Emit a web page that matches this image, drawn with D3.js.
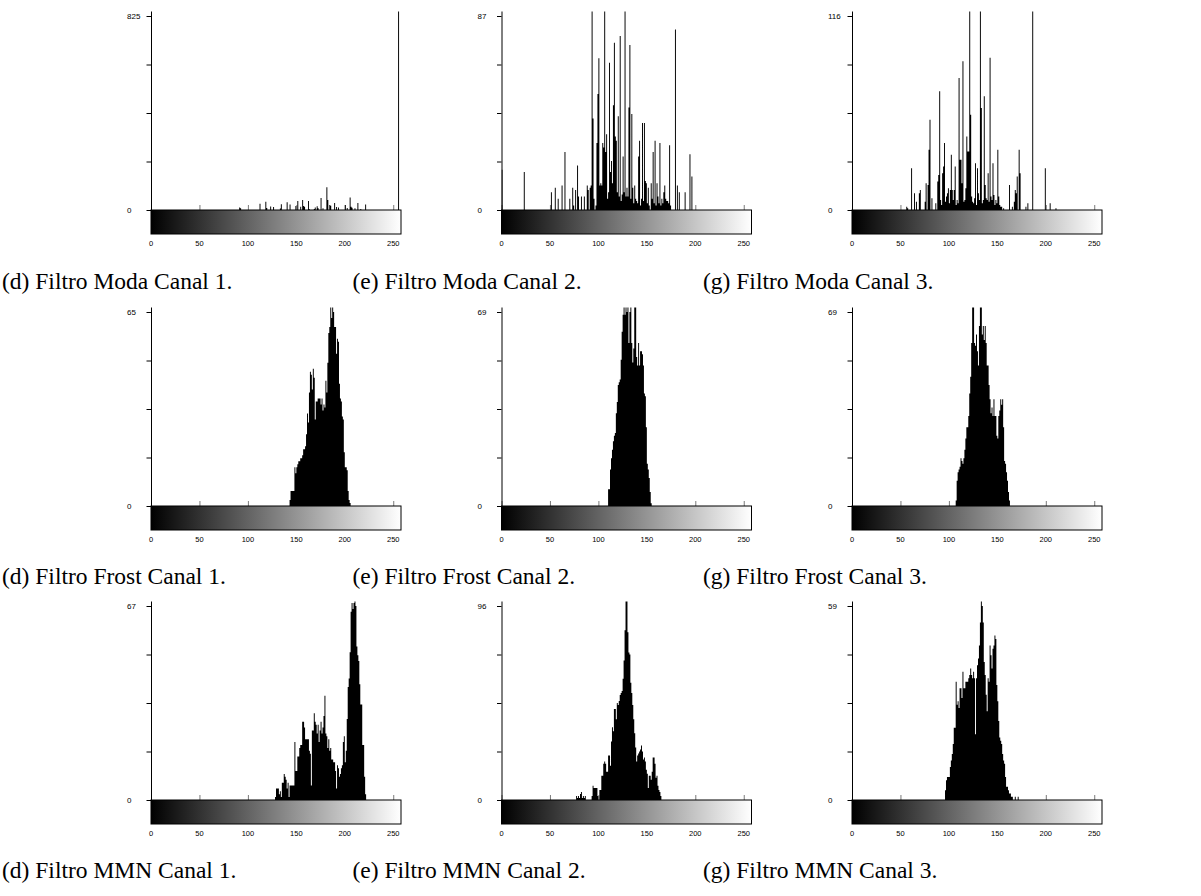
<!DOCTYPE html>
<html>
<head>
<meta charset="utf-8">
<script src="https://cdn.jsdelivr.net/npm/d3@7"></script>
<style>
  html, body { margin: 0; padding: 0; background: #fff; }
  svg { display: block; }
</style>
</head>
<body>
<svg id="chart" width="1201" height="896"></svg>
<script>
// Grey-level histograms of three filters (Moda, Frost, MMN) for channels 1-3.

const xTicks = [0, 50, 100, 150, 200, 250];

const captions = [
  "(d) Filtro Moda Canal 1.", "(e) Filtro Moda Canal 2.", "(g) Filtro Moda Canal 3.",
  "(d) Filtro Frost Canal 1.", "(e) Filtro Frost Canal 2.", "(g) Filtro Frost Canal 3.",
  "(d) Filtro MMN Canal 1.", "(e) Filtro MMN Canal 2.", "(g) Filtro MMN Canal 3."
];

// Largest labelled value of each y axis
const yMaxima = [825, 87, 116, 65, 69, 69, 67, 96, 59];

// Moda filter: sparse histograms (grey level -> pixel count)
const modaCanal1Bins = [91, 92, 112, 118, 119, 123, 126, 133, 134, 140, 143, 149, 151, 154, 156, 157, 158, 162, 163, 168, 169, 171, 172, 175, 177, 181, 182, 184, 185, 189, 191, 193, 200, 202, 205, 206, 207, 210, 213, 216, 221, 255];
const modaCanal1Counts = [11, 7, 27, 35, 8, 15, 13, 6, 24, 33, 23, 17, 38, 14, 43, 17, 14, 38, 3, 4, 11, 16, 7, 51, 7, 97, 43, 21, 18, 30, 13, 11, 21, 8, 53, 14, 10, 7, 30, 4, 23, 2000];

const modaCanal2Bins = [0, 23, 51, 55, 58, 62, 65, 70, 73, 74, 76, 78, 79, 82, 85, 88, 89, 91, 92, 93, 94, 95, 97, 98, 99, 100, 101, 102, 103, 104, 105, 106, 107, 108, 109, 110, 111, 112, 113, 114, 115, 116, 117, 118, 119, 120, 121, 122, 123, 124, 125, 126, 127, 128, 129, 130, 131, 132, 133, 134, 135, 136, 137, 138, 139, 140, 141, 142, 143, 144, 145, 146, 147, 148, 149, 150, 151, 152, 154, 155, 156, 157, 158, 159, 160, 161, 162, 163, 164, 165, 166, 167, 168, 169, 170, 171, 172, 173, 174, 179, 181, 183, 189, 194, 196];
const modaCanal2Counts = [18, 17, 8, 10, 5, 11, 26, 5, 10, 2, 9, 20, 6, 6, 6, 11, 9, 10, 11, 100, 41, 5, 2, 30, 52, 68, 11, 12, 11, 30, 28, 100, 26, 34, 5, 8, 66, 17, 22, 12, 47, 75, 33, 31, 8, 42, 6, 78, 4, 7, 24, 8, 100, 6, 10, 6, 46, 74, 5, 43, 10, 3, 11, 5, 4, 3, 24, 31, 2, 5, 39, 4, 39, 13, 12, 3, 10, 2, 12, 5, 26, 3, 31, 2, 12, 6, 3, 30, 2, 5, 3, 8, 11, 5, 4, 4, 3, 29, 2, 81, 11, 8, 8, 25, 15];

const modaCanal3Bins = [56, 57, 61, 64, 66, 69, 70, 75, 76, 78, 79, 80, 82, 86, 88, 89, 90, 91, 92, 93, 94, 95, 96, 97, 98, 99, 100, 101, 102, 103, 104, 105, 106, 107, 108, 109, 110, 111, 112, 113, 114, 115, 116, 117, 118, 119, 120, 121, 122, 123, 124, 125, 126, 127, 128, 129, 130, 131, 132, 133, 134, 135, 136, 137, 138, 139, 140, 141, 142, 143, 144, 145, 146, 147, 148, 149, 150, 151, 152, 153, 154, 156, 162, 165, 167, 168, 169, 170, 172, 173, 179, 181, 186, 199, 204, 210];
const modaCanal3Counts = [2, 1, 25, 10, 5, 10, 12, 5, 16, 15, 36, 54, 7, 4, 17, 21, 71, 6, 3, 22, 26, 40, 5, 8, 10, 13, 4, 12, 33, 12, 6, 12, 26, 3, 6, 4, 79, 30, 30, 16, 89, 5, 6, 13, 44, 35, 35, 150, 57, 8, 5, 4, 7, 28, 3, 25, 10, 6, 150, 61, 4, 6, 68, 15, 7, 6, 22, 5, 91, 8, 6, 28, 9, 3, 6, 4, 36, 8, 3, 2, 2, 1, 15, 2, 5, 12, 10, 20, 36, 22, 2, 4, 150, 25, 4, 1];

// Frost filter: dense histograms starting at the given grey level
const frostCanal1Start = 143;
const frostCanal1Counts = [2, 5, 5, 5, 5, 13, 11, 13, 14, 15, 15, 16, 16, 17, 19, 19, 20, 24, 31, 28, 38, 45, 44, 39, 46, 43, 29, 35, 35, 36, 36, 36, 34, 36, 32, 34, 33, 42, 38, 48, 58, 60, 70, 63, 70, 65, 60, 60, 51, 56, 55, 41, 36, 35, 30, 29, 18, 13, 13, 12, 5, 2, 1];

const frostCanal2Start = 110;
const frostCanal2Counts = [6, 6, 13, 17, 20, 23, 25, 26, 33, 37, 43, 44, 45, 52, 62, 68, 72, 68, 72, 69, 72, 58, 69, 72, 58, 51, 56, 72, 72, 53, 50, 58, 50, 55, 55, 54, 50, 40, 39, 28, 15, 13, 10, 5, 1];

const frostCanal3Start = 107;
const frostCanal3Counts = [2, 9, 12, 13, 14, 17, 16, 15, 17, 20, 24, 28, 28, 32, 40, 46, 58, 72, 72, 58, 57, 61, 55, 50, 64, 72, 72, 61, 64, 59, 64, 58, 50, 50, 43, 38, 33, 35, 32, 38, 32, 32, 25, 24, 32, 34, 38, 36, 38, 28, 16, 15, 12, 9, 5, 2];

// MMN filter
const mmnCanal1Start = 128;
const mmnCanal1Counts = [1, 4, 4, 4, 2, 3, 1, 6, 6, 9, 8, 7, 4, 6, 1, 5, 5, 5, 5, 5, 20, 10, 10, 15, 15, 18, 19, 19, 27, 27, 25, 21, 21, 21, 21, 17, 16, 5, 24, 24, 30, 27, 26, 23, 26, 20, 24, 27, 23, 25, 29, 36, 23, 22, 18, 21, 17, 18, 14, 14, 13, 13, 10, 4, 12, 11, 8, 9, 11, 12, 20, 22, 13, 17, 28, 39, 42, 51, 65, 68, 66, 68, 69, 67, 53, 50, 48, 40, 33, 33, 19, 19, 8, 2];

const mmnCanal2Start = 77;
const mmnCanal2Counts = [2, 1, 2, 1, 3, 4, 1, 2, 1, 2, 0, 0, 0, 0, 0, 0, 2, 7, 6, 6, 6, 6, 2, 0, 5, 5, 12, 12, 18, 19, 18, 14, 14, 22, 22, 17, 29, 36, 34, 45, 45, 40, 48, 47, 49, 52, 53, 54, 60, 69, 84, 100, 100, 83, 73, 72, 58, 53, 47, 40, 33, 26, 19, 22, 23, 24, 25, 27, 24, 20, 21, 19, 15, 13, 6, 12, 12, 10, 14, 21, 21, 18, 11, 12, 7, 5, 4, 2];

const mmnCanal3Start = 96;
const mmnCanal3Counts = [3, 6, 7, 7, 7, 10, 12, 14, 17, 22, 22, 36, 29, 30, 28, 34, 34, 31, 39, 34, 34, 36, 36, 36, 37, 38, 40, 38, 37, 39, 37, 20, 37, 41, 43, 47, 54, 62, 59, 54, 42, 38, 32, 27, 37, 36, 47, 44, 40, 46, 47, 50, 49, 35, 30, 24, 19, 18, 17, 14, 12, 11, 7, 4, 4, 3, 2, 2, 1, 1, 0, 0, 1, 0, 0, 1];

// ---- build the nine panels ----
const dense = (start, counts) => counts.map((c, i) => ({ bin: start + i, count: c }));
const sparse = (bins, counts) => bins.map((b, i) => ({ bin: b, count: counts[i] }));

const histograms = [
  sparse(modaCanal1Bins, modaCanal1Counts),
  sparse(modaCanal2Bins, modaCanal2Counts),
  sparse(modaCanal3Bins, modaCanal3Counts),
  dense(frostCanal1Start, frostCanal1Counts),
  dense(frostCanal2Start, frostCanal2Counts),
  dense(frostCanal3Start, frostCanal3Counts),
  dense(mmnCanal1Start, mmnCanal1Counts),
  dense(mmnCanal2Start, mmnCanal2Counts),
  dense(mmnCanal3Start, mmnCanal3Counts)
];

const colX = [151, 501.5, 852];
const rowZero = [210, 506, 800];
const plotW = 250;        // width of grey-level range 0..258
const plotH = 194;        // zero line to the top labelled tick
const headroom = 4.5;     // axis continues above the top tick
const rampH = 24;         // height of the grey ramp

const svg = d3.select("#chart");
const defs = svg.append("defs");

const grad = defs.append("linearGradient")
  .attr("id", "ramp").attr("x1", "0%").attr("x2", "100%").attr("y1", "0%").attr("y2", "0%");
grad.append("stop").attr("offset", "0%").attr("stop-color", "#000");
grad.append("stop").attr("offset", "100%").attr("stop-color", "#fff");

const x = d3.scaleLinear().domain([0, 258]).range([0, plotW]);
const allLevels = d3.range(0, 257);

histograms.forEach((data, k) => {
  const col = k % 3, row = Math.floor(k / 3);
  const yMax = yMaxima[k];
  const y = d3.scaleLinear().domain([0, yMax]).range([0, -plotH]);

  const g = svg.append("g").attr("transform", `translate(${colX[col]},${rowZero[row]})`);

  defs.append("clipPath").attr("id", "clip" + k)
    .append("rect").attr("x", 0).attr("y", -plotH - headroom)
    .attr("width", plotW + 2).attr("height", plotH + headroom);

  // short ticks on the zero line
  g.selectAll("line.xt").data(xTicks).join("line")
    .attr("class", "xt")
    .attr("x1", d => x(d) + 0.5).attr("x2", d => x(d) + 0.5)
    .attr("y1", 0).attr("y2", -5)
    .attr("stroke", "#7a7a7a").attr("stroke-width", 1);

  // histogram as one stepped area so neighbouring bins join without seams
  const byLevel = new Map(data.map(d => [d.bin, d.count]));
  const steps = allLevels.map(l => ({ bin: l, count: byLevel.get(l) || 0 }));
  const area = d3.area()
    .curve(d3.curveStepAfter)
    .x(d => x(d.bin))
    .y0(0)
    .y1(d => y(d.count));

  g.append("path")
    .attr("clip-path", `url(#clip${k})`)
    .attr("d", area(steps))
    .attr("fill", "#000");

  // grey ramp under the axis
  g.append("rect")
    .attr("x", 0).attr("y", 0)
    .attr("width", plotW).attr("height", rampH)
    .attr("fill", "url(#ramp)")
    .attr("stroke", "#000").attr("stroke-width", 1);

  // x tick labels
  g.selectAll("text.xl").data(xTicks).join("text")
    .attr("class", "xl")
    .attr("x", d => x(d))
    .attr("y", rampH + 11.5)
    .attr("text-anchor", "middle")
    .attr("font-family", "Liberation Sans, Arial, sans-serif")
    .attr("font-size", 7.5)
    .text(d => d);

  // y axis line
  g.append("line")
    .attr("x1", 0.5).attr("x2", 0.5)
    .attr("y1", -plotH - headroom).attr("y2", 0)
    .attr("stroke", "#000").attr("stroke-width", 1);

  const yTicks = d3.range(5).map(i => yMax * i / 4);
  g.selectAll("line.yt").data(yTicks).join("line")
    .attr("class", "yt")
    .attr("x1", -4.5).attr("x2", 0)
    .attr("y1", d => y(d) + 0.5).attr("y2", d => y(d) + 0.5)
    .attr("stroke", "#000").attr("stroke-width", 1);

  g.selectAll("text.yl").data([0, yMax]).join("text")
    .attr("class", "yl")
    .attr("x", -24)
    .attr("y", d => y(d) + 3)
    .attr("font-family", "Liberation Sans, Arial, sans-serif")
    .attr("font-size", 8)
    .text(d => d);
});

// captions below each panel
const capBaseline = [289, 584, 878];
svg.selectAll("text.cap").data(captions).join("text")
  .attr("class", "cap")
  .attr("x", (d, i) => colX[i % 3] - 149)
  .attr("y", (d, i) => capBaseline[Math.floor(i / 3)])
  .attr("font-family", "Liberation Serif, Times New Roman, serif")
  .attr("font-size", 23.5)
  .attr("fill", "#000")
  .text(d => d);
</script>
</body>
</html>
